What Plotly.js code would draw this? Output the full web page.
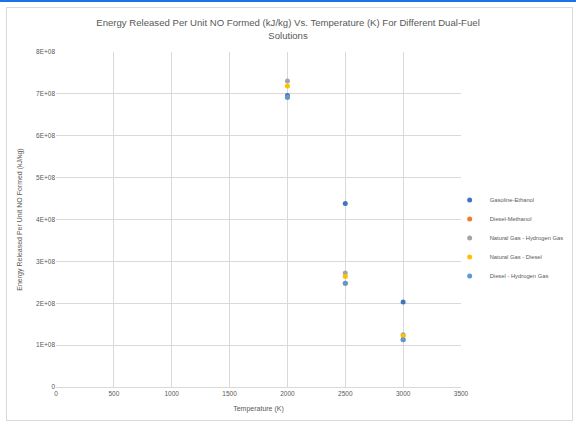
<!DOCTYPE html>
<html>
<head>
<meta charset="utf-8">
<script src="https://cdn.plot.ly/plotly-3.0.1.min.js"></script>
<style>
  html, body { margin: 0; padding: 0; background: #fff; }
  #wrap { position: relative; width: 576px; height: 425px; }
  #chart { position: absolute; left: 0; top: 0; width: 576px; height: 425px; }
  #frame { position: absolute; left: 6px; top: 7px; width: 565px; height: 412px;
           border: 1px solid #d9d9d9; pointer-events: none; }
  #topbar { position: absolute; left: 0; top: 0; width: 576px; height: 2px; background: #1a73e8; }
</style>
</head>
<body>
<div id="wrap">
  <div id="chart"></div>
  <div id="frame"></div>
  <div id="topbar"></div>
</div>
<script>
// Temperatures (K)
const temperatures = [2000, 2500, 3000];

// Energy released per unit NO formed (kJ/kg)
const gasolineEthanol   = [6.96e8, 4.38e8, 2.03e8];
const dieselMethanol    = [6.92e8, 2.48e8, 1.13e8];
const naturalGasH2      = [7.31e8, 2.72e8, 1.25e8];
const naturalGasDiesel  = [7.19e8, 2.64e8, 1.22e8];
const dieselH2          = [6.92e8, 2.48e8, 1.13e8];

const seriesNames = [
  'Gasoline-Ethanol',
  'Diesel-Methanol',
  'Natural Gas - Hydrogen Gas',
  'Natural Gas - Diesel',
  'Diesel - Hydrogen Gas'
];
const seriesValues = [gasolineEthanol, dieselMethanol, naturalGasH2, naturalGasDiesel, dieselH2];
const seriesColors = ['#4472C4', '#ED7D31', '#A5A5A5', '#FFC000', '#5B9BD5'];

// Axis ticks
const xTicks = [0, 500, 1000, 1500, 2000, 2500, 3000, 3500];
const yTickVals = [0, 1e8, 2e8, 3e8, 4e8, 5e8, 6e8, 7e8, 8e8];
const yTickText = ['0', '1E+08', '2E+08', '3E+08', '4E+08', '5E+08', '6E+08', '7E+08', '8E+08'];

const font = 'Liberation Sans, Arial, sans-serif';
const textColor = '#595959';

const traces = seriesNames.map((name, i) => ({
  type: 'scatter',
  mode: 'markers',
  name: name,
  x: temperatures,
  y: seriesValues[i],
  marker: { color: seriesColors[i], size: 5 },
  cliponaxis: false
}));

const layout = {
  width: 576,
  height: 425,
  margin: { l: 56, r: 115, t: 52, b: 38, autoexpand: false },
  paper_bgcolor: '#ffffff',
  plot_bgcolor: '#ffffff',
  font: { family: font, color: textColor, size: 6 },
  title: {
    text: 'Energy Released Per Unit NO Formed (kJ/kg) Vs. Temperature (K) For Different Dual-Fuel<br>Solutions',
    font: { family: font, size: 9.6, color: textColor },
    x: 0.5, xref: 'container', xanchor: 'center',
    y: 0.938, yref: 'container', yanchor: 'middle'
  },
  xaxis: {
    range: [0, 3500],
    tickvals: xTicks,
    ticktext: xTicks.map(String),
    showgrid: true, gridcolor: '#d9d9d9', gridwidth: 1,
    zeroline: false,
    showline: true, linecolor: '#d9d9d9', linewidth: 1,
    ticks: '', ticklen: 0,
    tickfont: { family: font, size: 6.5, color: textColor },
    title: { text: 'Temperature (K)', font: { family: font, size: 7, color: textColor }, standoff: 10 }
  },
  yaxis: {
    range: [0, 8e8],
    tickvals: yTickVals,
    ticktext: yTickText,
    showgrid: true, gridcolor: '#d9d9d9', gridwidth: 1,
    zeroline: false,
    showline: false,
    ticks: '', ticklen: 0,
    tickfont: { family: font, size: 6.5, color: textColor },
    title: { text: 'Energy Released Per Unit NO Formed (kJ/kg)', font: { family: font, size: 7, color: textColor }, standoff: 12 }
  },
  legend: {
    x: 0.972, xanchor: 'left',
    y: 0.445, yanchor: 'middle',
    font: { family: font, size: 5.8, color: textColor },
    itemwidth: 30,
    tracegroupgap: 0,
    bgcolor: 'rgba(0,0,0,0)'
  },
  showlegend: true
};

Plotly.newPlot('chart', traces, layout, { displayModeBar: false, staticPlot: true });
</script>
</body>
</html>
